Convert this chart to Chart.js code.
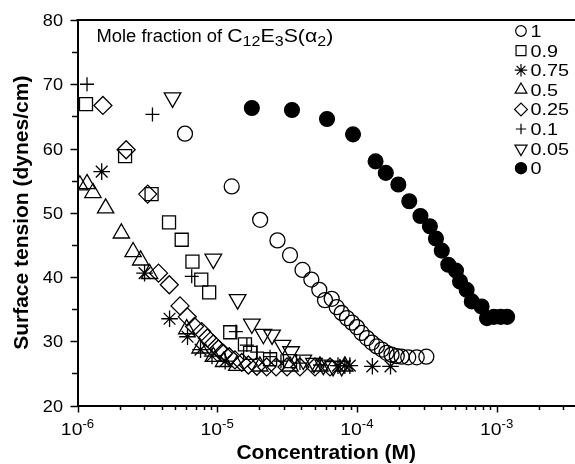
<!DOCTYPE html>
<html>
<head>
<meta charset="utf-8">
<script src="https://cdn.jsdelivr.net/npm/chart.js@4.4.0/dist/chart.umd.min.js"></script>
<style>
  html, body { margin: 0; padding: 0; background: #fff; }
  #wrap { width: 575px; height: 464px; }
</style>
</head>
<body>
<div id="wrap"><canvas id="c" width="575" height="464"></canvas></div>
<script>
// Surface tension of mixed C12E3S solutions vs. total concentration (M)

// Mole fraction of C12E3S(alpha2) in each series
const seriesLabels = ['1', '0.9', '0.75', '0.5', '0.25', '0.1', '0.05', '0'];

// alpha = 1
const conc_1 = [5.88e-6, 1.27e-5, 2.03e-5, 2.70e-5, 3.32e-5, 4.08e-5, 4.72e-5, 5.38e-5, 5.91e-5, 6.60e-5,
                7.17e-5, 7.78e-5, 8.49e-5, 9.23e-5, 1.00e-4, 1.08e-4, 1.18e-4, 1.28e-4, 1.39e-4, 1.51e-4,
                1.63e-4, 1.77e-4, 1.93e-4, 2.09e-4, 2.33e-4, 2.68e-4, 3.14e-4];
const gamma_1 = [62.3, 54.1, 48.9, 45.7, 43.4, 41.1, 39.6, 38.0, 36.4, 36.6,
                 35.3, 34.4, 33.6, 32.9, 32.2, 31.3, 30.5, 29.8, 29.2, 28.7,
                 28.2, 27.9, 27.7, 27.6, 27.5, 27.5, 27.6];

// alpha = 0.9
const conc_09 = [1.15e-6, 2.19e-6, 3.39e-6, 4.52e-6, 5.57e-6, 6.65e-6, 7.69e-6, 8.76e-6, 1.24e-5, 1.58e-5, 1.72e-5, 2.39e-5, 3.32e-5];
const gamma_09 = [66.9, 58.8, 52.9, 48.5, 45.8, 42.4, 39.6, 37.6, 31.4, 29.5, 28.2, 27.2, 26.9];

// alpha = 0.75
const conc_075 = [1.49e-6, 3.02e-6, 4.56e-6, 6.13e-6, 7.60e-6, 9.18e-6, 1.14e-5, 7.32e-5, 8.2e-5, 8.9e-5, 1.29e-4, 1.74e-4];
const gamma_075 = [56.4, 40.6, 33.5, 30.7, 28.7, 27.7, 26.9, 26.2, 26.2, 26.2, 26.1, 26.1];

// alpha = 0.5
const conc_05 = [1.04e-6, 1.17e-6, 1.29e-6, 1.59e-6, 2.06e-6, 2.50e-6, 2.83e-6, 3.28e-6, 6.05e-6, 7.53e-6,
                 9.38e-6, 1.11e-5, 1.38e-5, 2.02e-5, 3.32e-5, 5.44e-5, 8.2e-5];
const gamma_05 = [54.3, 54.5, 53.1, 50.7, 46.8, 43.9, 42.6, 40.5, 31.9, 28.9,
                  27.6, 26.8, 26.2, 26.1, 26.1, 26.1, 26.1];

// alpha = 0.25
const conc_025 = [1.52e-6, 2.23e-6, 3.18e-6, 3.80e-6, 4.54e-6, 5.42e-6, 6.11e-6, 6.88e-6, 7.74e-6, 8.50e-6,
                  9.38e-6, 1.02e-5, 1.11e-5, 1.22e-5, 1.34e-5, 1.50e-5, 1.67e-5, 1.92e-5, 2.26e-5, 2.64e-5,
                  3.16e-5, 3.91e-5, 5.01e-5, 6.42e-5];
const gamma_025 = [66.7, 59.8, 52.9, 40.6, 38.8, 35.5, 33.8, 32.3, 31.5, 30.5,
                   29.6, 28.8, 28.1, 27.6, 27.1, 26.7, 26.3, 26.1, 26.0, 26.0,
                   26.0, 26.0, 26.0, 26.0];

// alpha = 0.1
const conc_01 = [1.17e-6, 3.44e-6, 6.57e-6, 1.36e-5, 1.63e-5, 1.93e-5, 2.39e-5, 2.86e-5, 3.91e-5, 5.44e-5, 7.57e-5];
const gamma_01 = [70.0, 65.3, 40.1, 31.5, 29.4, 28.3, 27.6, 26.9, 26.6, 26.3, 26.2];

// alpha = 0.05
const conc_005 = [4.79e-6, 9.38e-6, 1.40e-5, 1.77e-5, 2.14e-5, 2.47e-5, 2.93e-5, 3.38e-5, 4.13e-5, 4.93e-5, 5.75e-5, 6.75e-5, 7.78e-5];
const gamma_005 = [67.9, 42.8, 36.5, 32.7, 31.1, 31.0, 29.4, 28.4, 27.1, 26.6, 26.3, 26.1, 26.1];

// alpha = 0
const conc_0 = [1.77e-5, 3.43e-5, 6.11e-5, 9.38e-5, 1.36e-4, 1.61e-4, 1.98e-4, 2.37e-4, 2.85e-4, 3.33e-4,
                3.68e-4, 4.05e-4, 4.51e-4, 5.12e-4, 5.47e-4, 6.10e-4, 6.64e-4, 7.81e-4, 8.53e-4, 9.57e-4,
                1.07e-3, 1.19e-3];
const gamma_0 = [66.3, 66.0, 64.6, 62.2, 58.0, 56.2, 54.4, 51.8, 49.5, 47.9,
                 46.0, 44.1, 41.9, 41.0, 39.3, 38.0, 36.2, 35.4, 33.6, 33.8,
                 33.8, 33.8];

// Axis ticks
const xDecades = [-6, -5, -4, -3];
const yTicks = [20, 30, 40, 50, 60, 70, 80];
const xMin = 1e-6, xMax = 3.64e-3;

const FONT = '"Liberation Sans", Arial, sans-serif';

function pts(xs, ys) { return xs.map((x, i) => ({ x: x, y: ys[i] })); }

// marker: [pointStyle, radius, filled, rotation, legendRadius]
const markers = [
  ['circle',   7.5, false, 0,   5.3],
  ['rect',     9.2, false, 0,   7.0],
  ['star',     8.3, false, 0,   6.2],
  ['triangle', 9.4, false, 0,   6.8],
  ['rectRot',  9.0, false, 0,   6.4],
  ['cross',    7.0, false, 0,   5.2],
  ['triangle', 9.6, false, 180, 7.0],
  ['circle',   7.4, true,  0,   5.6]
];
const seriesData = [
  pts(conc_1, gamma_1), pts(conc_09, gamma_09), pts(conc_075, gamma_075), pts(conc_05, gamma_05),
  pts(conc_025, gamma_025), pts(conc_01, gamma_01), pts(conc_005, gamma_005), pts(conc_0, gamma_0)
];

const datasets = seriesLabels.map((lab, i) => {
  const m = markers[i];
  return {
    label: lab,
    data: seriesData[i],
    showLine: false,
    pointStyle: m[0],
    pointRadius: m[1],
    pointHoverRadius: m[1],
    pointRotation: m[3],
    pointBorderWidth: 1.3,
    pointBorderColor: '#000',
    pointBackgroundColor: m[2] ? '#000' : 'rgba(0,0,0,0)',
    legendRadius: m[4],
    clip: 0
  };
});

// draw text with a horizontal stretch factor
function wideText(ctx, str, x, y, size, sx, align, weight) {
  ctx.save();
  ctx.font = (weight || '') + ' ' + size + 'px ' + FONT;
  const w = ctx.measureText(str).width * sx;
  let x0 = x;
  if (align === 'right') x0 = x - w;
  else if (align === 'center') x0 = x - w / 2;
  ctx.translate(x0, y);
  ctx.scale(sx, 1);
  ctx.textAlign = 'left';
  ctx.textBaseline = 'alphabetic';
  ctx.fillStyle = '#000';
  ctx.fillText(str, 0, 0);
  ctx.restore();
  return w;
}
function textWidth(ctx, str, size, sx) {
  ctx.save();
  ctx.font = size + 'px ' + FONT;
  const w = ctx.measureText(str).width * sx;
  ctx.restore();
  return w;
}

const axisDecor = {
  id: 'axisDecor',
  afterDraw(chart) {
    const ctx = chart.ctx;
    const xs = chart.scales.x, ys = chart.scales.y;
    const area = chart.chartArea;
    ctx.save();
    ctx.strokeStyle = '#000';

    // top frame line
    ctx.lineWidth = 2;
    ctx.beginPath();
    ctx.moveTo(area.left - 1, area.top);
    ctx.lineTo(area.right, area.top);
    ctx.stroke();

    // y ticks (major every 10, minor halfway)
    ctx.lineWidth = 1.5;
    yTicks.forEach((v, i) => {
      const py = Math.round(ys.getPixelForValue(v)) + 0.5;
      ctx.beginPath();
      ctx.moveTo(area.left, py);
      ctx.lineTo(area.left - 7, py);
      ctx.stroke();
      if (i < yTicks.length - 1) {
        const pm = Math.round(ys.getPixelForValue((v + yTicks[i + 1]) / 2)) + 0.5;
        ctx.beginPath();
        ctx.moveTo(area.left, pm);
        ctx.lineTo(area.left - 5.5, pm);
        ctx.stroke();
      }
      wideText(ctx, String(v), area.left - 14.5, ys.getPixelForValue(v) + 6, 16.5, 1.1, 'right');
    });

    // x ticks: decades (major) and 2..9 multiples (minor)
    xDecades.forEach(d => {
      const base = Math.pow(10, d);
      const px = Math.round(xs.getPixelForValue(base)) + 0.5;
      ctx.beginPath();
      ctx.moveTo(px, area.bottom);
      ctx.lineTo(px, area.bottom + 7);
      ctx.stroke();
      for (let k = 2; k <= 9; k++) {
        const v = k * base;
        if (v > xMax) break;
        const pm = Math.round(xs.getPixelForValue(v)) + 0.5;
        ctx.beginPath();
        ctx.moveTo(pm, area.bottom);
        ctx.lineTo(pm, area.bottom + 4.5);
        ctx.stroke();
      }
      // label 10^d
      const cx = xs.getPixelForValue(base);
      const w1 = textWidth(ctx, '10', 17, 1.14);
      const w2 = textWidth(ctx, String(d), 12, 1.1);
      const x0 = cx - (w1 + w2) / 2;
      wideText(ctx, '10', x0, 435, 17, 1.14, 'left');
      wideText(ctx, String(d), x0 + w1, 428, 12, 1.1, 'left');
    });

    // annotation: Mole fraction of C12E3S(alpha2)
    const parts = [
      ['Mole fraction of ', 0, 17.5, 1.05],
      ['C', 0, 18.5, 1.15], ['12', 1, 14, 1.15], ['E', 0, 18.5, 1.15], ['3', 1, 14, 1.15],
      ['S(\u03B1', 0, 18.5, 1.15], ['2', 1, 14, 1.15], [')', 0, 18.5, 1.15]
    ];
    let tx = 96.5;
    parts.forEach(p => {
      const base = p[1] ? 46 : 41.5;
      tx += wideText(ctx, p[0], tx, base, p[2], p[3], 'left');
    });

    // legend
    const lx = 521, ly0 = 31, step = 19.6;
    chart.data.datasets.forEach((ds, i) => {
      const y = ly0 + i * step;
      ctx.save();
      ctx.lineWidth = 1.2;
      ctx.strokeStyle = '#000';
      ctx.fillStyle = ds.pointBackgroundColor;
      Chart.helpers.drawPoint(ctx, {
        pointStyle: ds.pointStyle,
        radius: ds.legendRadius,
        rotation: ds.pointRotation,
        borderWidth: 1.2
      }, lx, y);
      ctx.restore();
      wideText(ctx, ds.label, 530.5, y + 6, 16.5, 1.2, 'left');
    });

    ctx.restore();
  }
};

new Chart(document.getElementById('c').getContext('2d'), {
  type: 'scatter',
  data: { datasets: datasets },
  options: {
    responsive: false,
    animation: false,
    devicePixelRatio: 1,
    layout: { autoPadding: false, padding: { top: 20, right: 0, left: 0, bottom: 0 } },
    plugins: { legend: { display: false }, tooltip: { enabled: false } },
    scales: {
      x: {
        type: 'logarithmic',
        position: 'bottom',
        min: xMin,
        max: xMax,
        grid: { display: false, drawTicks: false },
        border: { display: true, color: '#000', width: 2 },
        ticks: { display: false },
        title: {
          display: true,
          text: 'Concentration (M)',
          color: '#000',
          font: { family: FONT, weight: 'bold', size: 21, lineHeight: 1 },
          padding: { top: 0, bottom: 0 }
        },
        afterFit(s) { s.height = 58.5; }
      },
      y: {
        type: 'linear',
        position: 'left',
        min: 20,
        max: 80,
        grid: { display: false, drawTicks: false },
        border: { display: true, color: '#000', width: 2 },
        ticks: { display: false },
        title: {
          display: true,
          text: 'Surface tension (dynes/cm)',
          color: '#000',
          font: { family: FONT, weight: 'bold', size: 21, lineHeight: 1 },
          padding: { top: 11.5, bottom: 0 }
        },
        afterFit(s) { s.width = 77.5; }
      }
    }
  },
  plugins: [axisDecor]
});
</script>
</body>
</html>
